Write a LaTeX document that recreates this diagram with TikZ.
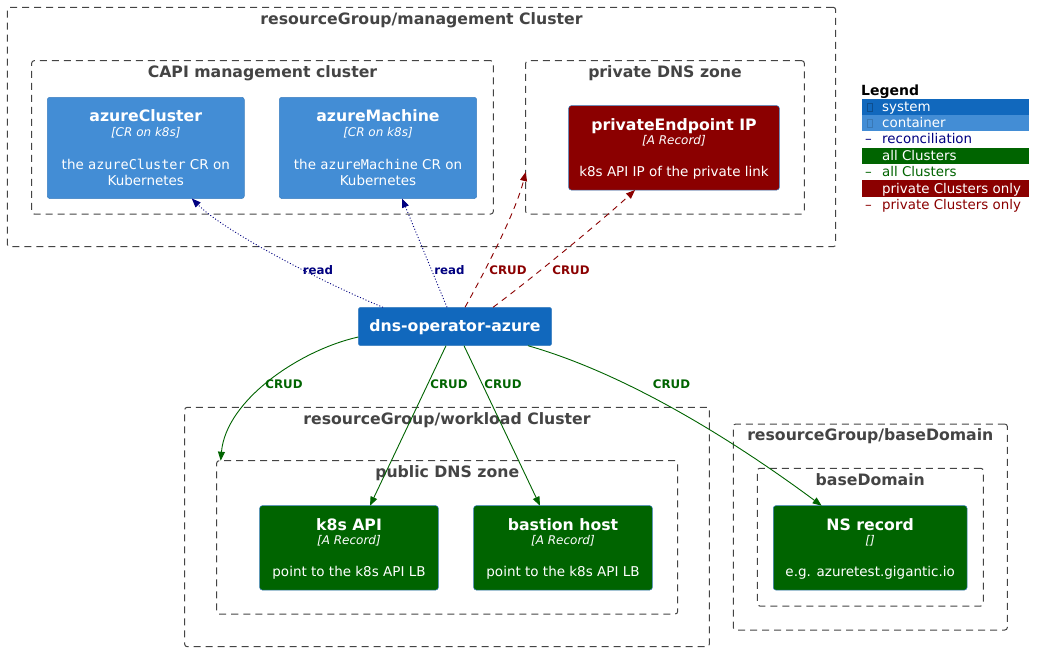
\documentclass[tikz,border=0pt]{standalone}
\usepackage{fontspec}
\setmainfont{DejaVu Sans}
\newfontfamily\monof{DejaVu Sans Mono}
\usetikzlibrary{arrows.meta,calc}
\definecolor{sysblue}{HTML}{1168BD}
\definecolor{contblue}{HTML}{438DD5}
\definecolor{dred}{HTML}{8B0000}
\definecolor{dgreen}{HTML}{006400}
\definecolor{bgray}{HTML}{444444}
\definecolor{navyc}{HTML}{000080}
\definecolor{boxedge}{HTML}{3C7FC0}
\tikzset{
  bnd/.style={draw=bgray, dash pattern=on 7pt off 5pt, line width=1pt, rounded corners=2.5pt, inner sep=0pt, outer sep=0pt},
  cbox/.style={rounded corners=2.5pt, inner sep=0pt, outer sep=0pt, draw=boxedge, line width=0.5pt},
  btitle/.style={anchor=base, text=bgray, inner sep=0pt, font=\fontsize{15.7}{18}\selectfont\bfseries},
  ttl/.style={anchor=base, text=white, inner sep=0pt, font=\fontsize{15.7}{19}\selectfont\bfseries},
  tech/.style={anchor=base, text=white, inner sep=0pt, font=\fontsize{12}{14}\selectfont\itshape},
  desc/.style={anchor=base, text=white, inner sep=0pt, font=\fontsize{13.5}{16}\selectfont},
  elab/.style={anchor=base, inner sep=0pt, font=\fontsize{11.8}{14}\selectfont\bfseries},
  legt/.style={anchor=base west, inner sep=0pt, font=\fontsize{13.4}{15}\selectfont},
  legr/.style={inner sep=0pt, outer sep=0pt, minimum width=167.3pt, minimum height=16.3pt},
  tip/.style={-{Triangle[length=9pt,width=7pt]}},
  readE/.style={draw=navyc, dash pattern=on 1pt off 2pt, line width=0.9pt, tip},
  crudR/.style={draw=dred, dash pattern=on 6pt off 5pt, line width=0.9pt, tip},
  crudG/.style={draw=dgreen, line width=0.9pt, tip},
}
\begin{document}
\begin{tikzpicture}[x=1pt,y=-1pt]
\fill[white] (0,0) rectangle (1043,651);
\useasboundingbox (0,0) rectangle (1043,651);

% boundaries
\node[bnd, minimum width=828.4pt, minimum height=239.4pt] (mgmt) at (421.5,127) {};
\node[btitle] (mgmtT) at (421.5,24.5) {resourceGroup/management Cluster};
\node[bnd, minimum width=461.6pt, minimum height=153.3pt] (capi) at (262.5,137.35) {};
\node[btitle] (capiT) at (262.5,77.3) {CAPI management cluster};
\node[bnd, minimum width=278.6pt, minimum height=153.3pt] (pdns) at (665,137.35) {};
\node[btitle] (pdnsT) at (665,77.3) {private DNS zone};
\node[bnd, minimum width=524.6pt, minimum height=239.4pt] (wl) at (447,527) {};
\node[btitle] (wlT) at (447,424.3) {resourceGroup/workload Cluster};
\node[bnd, minimum width=461pt, minimum height=153.3pt] (pub) at (447.2,537.35) {};
\node[btitle] (pubT) at (447.2,477.7) {public DNS zone};
\node[bnd, minimum width=274pt, minimum height=206pt] (bd) at (870.3,527) {};
\node[btitle] (bdT) at (870.3,440.5) {resourceGroup/baseDomain};
\node[bnd, minimum width=226pt, minimum height=137.7pt] (bdi) at (870.3,537.15) {};
\node[btitle] (bdiT) at (870.3,485.3) {baseDomain};

% boxes
\node[cbox, fill=contblue, minimum width=197pt, minimum height=101.2pt] (ac) at (145.8,147.9) {};
\node[ttl] (acT) at (145.8,121.7) {azureCluster};
\node[tech] (acK) at (145.8,136) {[CR on k8s]};
\node[desc] (acD1) at (145.8,169) {the {\monof azureCluster} CR on};
\node[desc] (acD2) at (145.8,185) {Kubernetes};

\node[cbox, fill=contblue, minimum width=197.4pt, minimum height=101.2pt] (am) at (378,147.9) {};
\node[ttl] (amT) at (378,121.7) {azureMachine};
\node[tech] (amK) at (378,136) {[CR on k8s]};
\node[desc] (amD1) at (378,169) {the {\monof azureMachine} CR on};
\node[desc] (amD2) at (378,185) {Kubernetes};

\node[cbox, fill=dred, minimum width=210.6pt, minimum height=84.3pt] (pe) at (674,147.85) {};
\node[ttl] (peT) at (674,130) {privateEndpoint IP};
\node[tech] (peK) at (674,144.3) {[A Record]};
\node[desc] (peD) at (674,176.7) {k8s API IP of the private link};

\node[cbox, fill=sysblue, minimum width=193.4pt, minimum height=38.4pt] (op) at (455,326.5) {};
\node[ttl] (opT) at (455,331.7) {dns-operator-azure};

\node[cbox, fill=dgreen, minimum width=178.6pt, minimum height=84.3pt] (k8s) at (349,547.85) {};
\node[ttl] (k8sT) at (349,530) {k8s API};
\node[tech] (k8sK) at (349,544.3) {[A Record]};
\node[desc] (k8sD) at (349,576.7) {point to the k8s API LB};

\node[cbox, fill=dgreen, minimum width=178.6pt, minimum height=84.3pt] (bh) at (563,547.85) {};
\node[ttl] (bhT) at (563,530) {bastion host};
\node[tech] (bhK) at (563,544.3) {[A Record]};
\node[desc] (bhD) at (563,576.7) {point to the k8s API LB};

\node[cbox, fill=dgreen, minimum width=193.7pt, minimum height=84.3pt] (ns) at (870.15,547.85) {};
\node[ttl] (nsT) at (870.15,530) {NS record};
\node[tech] (nsK) at (870.15,544.3) {[]};
\node[desc] (nsD) at (870.15,576.7) {e.g. azuretest.gigantic.io};

% connectors
\draw[readE] ($(op.north)+(-72,0)$) .. controls +(-70,-29) and +(30,30.5) .. ($(ac.south)+(46,0)$);
\draw[readE] ($(op.north)+(-8,0)$) -- ($(am.south)+(24,0)$);
\draw[crudR] ($(op.north)+(10,0)$) .. controls +(15,-27) and +(-10.7,43) .. ($(pdns.south west)+(0,-42)$);
\draw[crudR] ($(op.north)+(38,0)$) .. controls +(37,-27.3) and +(-30,28) .. ($(pe.south)+(-39,0)$);
\draw[crudG] ($(op.west)+(0,10.5)$) .. controls +(-58.3,13) and +(5.3,-60.7) .. ($(pub.north west)+(4,0)$);
\draw[crudG] ($(op.south)+(-9,0)$) -- ($(k8s.north)+(21,0)$);
\draw[crudG] ($(op.south)+(9,0)$) -- ($(bh.north)+(-23,0)$);
\draw[crudG] ($(op.south)+(73,0)$) .. controls +(109.7,31.3) and +(-69.7,-51.7) .. ($(ns.north)+(-48.5,0)$);

% edge labels
\node[elab, text=navyc] (l1) at (318,274) {read};
\node[elab, text=navyc] (l2) at (449.5,274) {read};
\node[elab, text=dred] (l3) at (508,274) {CRUD};
\node[elab, text=dred] (l4) at (571,274) {CRUD};
\node[elab, text=dgreen] (l5) at (284,388) {CRUD};
\node[elab, text=dgreen] (l6) at (449,388) {CRUD};
\node[elab, text=dgreen] (l7) at (503,388) {CRUD};
\node[elab, text=dgreen] (l8) at (671.5,388) {CRUD};

% legend
\node[anchor=base west, inner sep=0pt, font=\fontsize{14}{16}\selectfont\bfseries] (legT) at (861,95) {Legend};
\node[legr, fill=sysblue] (lr1) at (945.35,107) {};
\draw[draw=black!25!sysblue, line width=0.5pt] (867.3,103.3) rectangle (872,111.7);
\node[legt, text=white] (lt1) at (882,111.7) {system};
\node[legr, fill=contblue] (lr2) at (945.35,123) {};
\draw[draw=black!15!contblue, line width=0.5pt] (867.3,119.3) rectangle (872,127.7);
\node[legt, text=white] (lt2) at (882,127.7) {container};
\node[legt, text=navyc] (ld3) at (865,143.3) {–};
\node[legt, text=navyc] (lt3) at (882,143.3) {reconciliation};
\node[legr, fill=dgreen] (lr4) at (945.35,155.85) {};
\node[legt, text=white] (lt4) at (882,160) {all Clusters};
\node[legt, text=dgreen] (ld5) at (865,176) {–};
\node[legt, text=dgreen] (lt5) at (882,176) {all Clusters};
\node[legr, fill=dred] (lr6) at (945.35,188.5) {};
\node[legt, text=white] (lt6) at (882,193.3) {private Clusters only};
\node[legt, text=dred] (ld7) at (865,209.3) {–};
\node[legt, text=dred] (lt7) at (882,209.3) {private Clusters only};
\end{tikzpicture}
\end{document}
